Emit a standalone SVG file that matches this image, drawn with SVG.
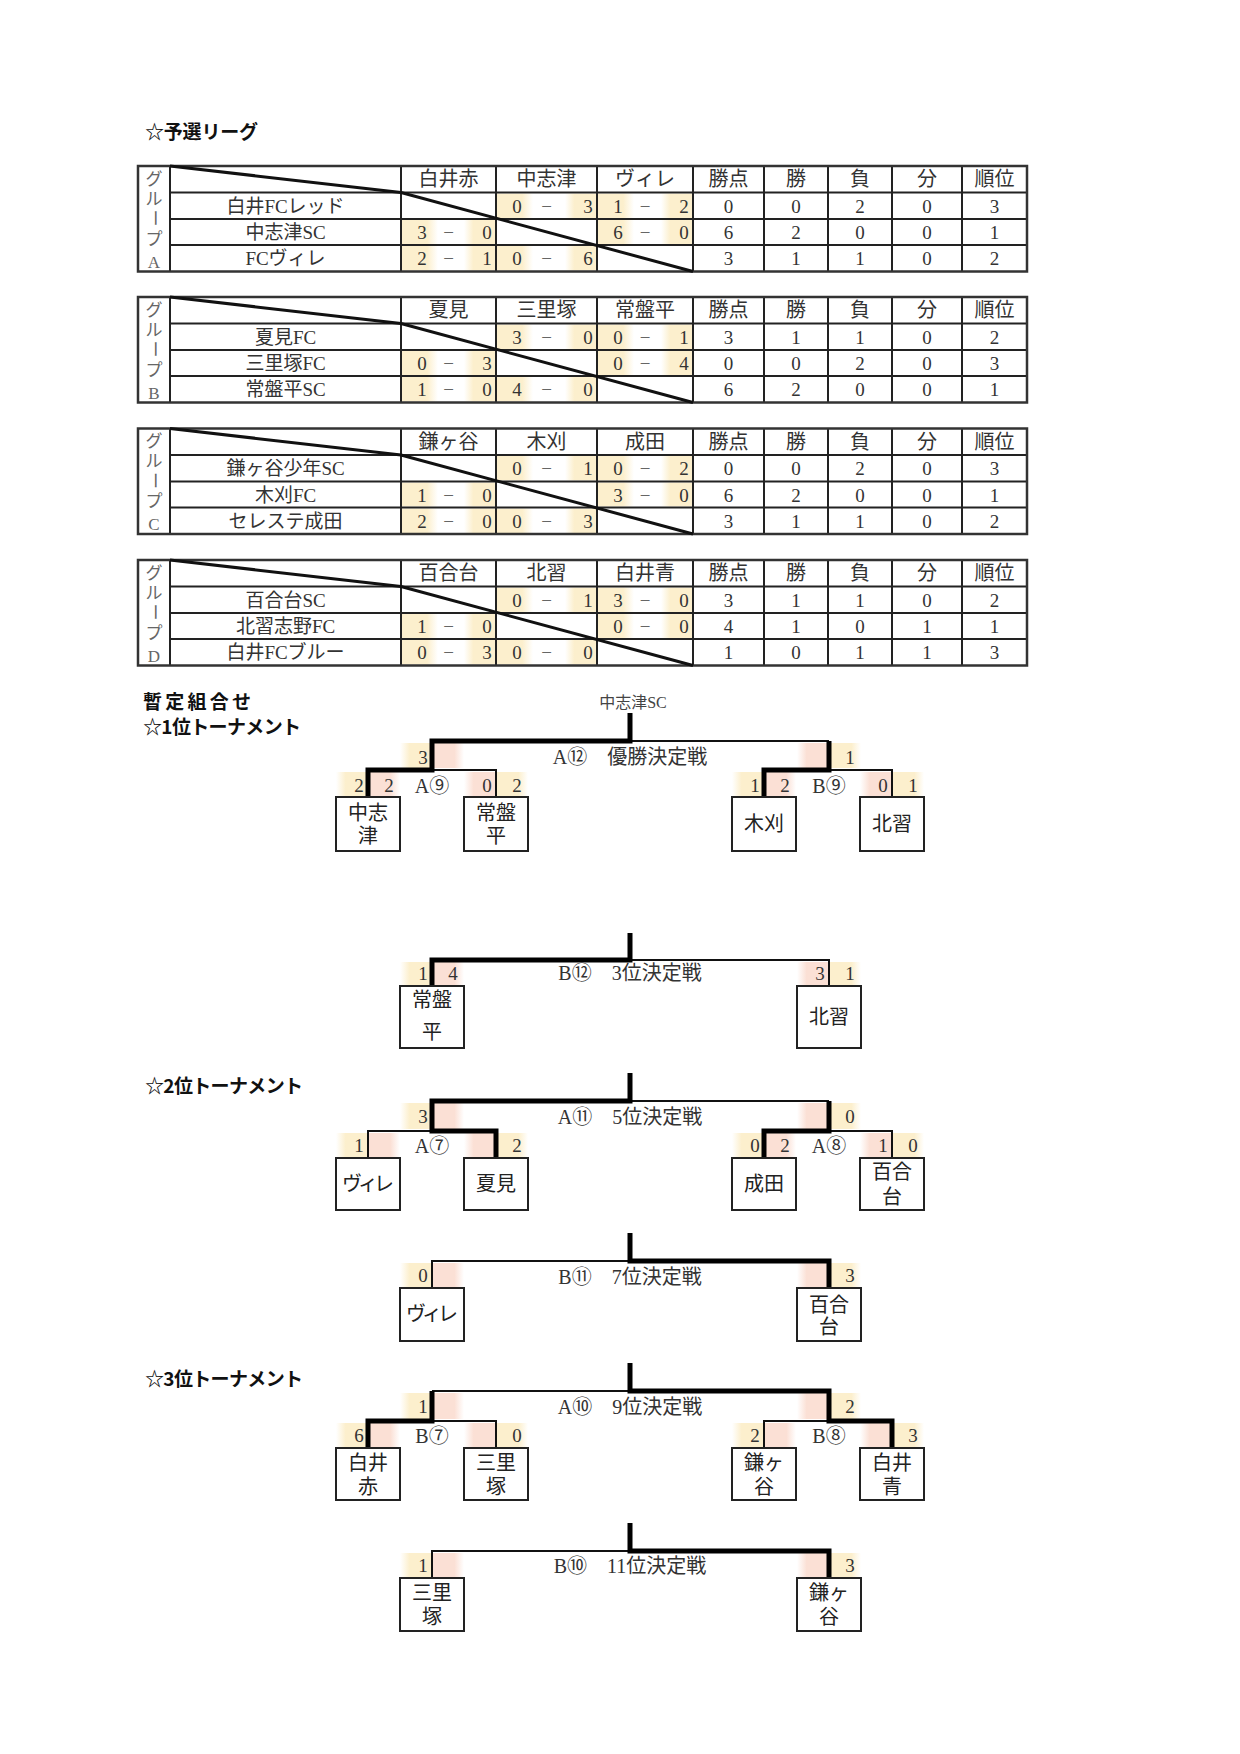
<svg xmlns="http://www.w3.org/2000/svg" width="1240" height="1754" viewBox="0 0 1240 1754">
<defs>
<linearGradient id="yFR" x1="0" x2="1" y1="0" y2="0"><stop offset="0" stop-color="#fcefcd"/><stop offset="0.7" stop-color="#fcefcd"/><stop offset="1" stop-color="#fcefcd" stop-opacity="0"/></linearGradient>
<linearGradient id="yFL" x1="0" x2="1" y1="0" y2="0"><stop offset="0" stop-color="#fcefcd" stop-opacity="0"/><stop offset="0.3" stop-color="#fcefcd"/><stop offset="1" stop-color="#fcefcd"/></linearGradient>
<linearGradient id="pFR" x1="0" x2="1" y1="0" y2="0"><stop offset="0" stop-color="#fbe0d5"/><stop offset="0.7" stop-color="#fbe0d5"/><stop offset="1" stop-color="#fbe0d5" stop-opacity="0"/></linearGradient>
<linearGradient id="pFL" x1="0" x2="1" y1="0" y2="0"><stop offset="0" stop-color="#fbe0d5" stop-opacity="0"/><stop offset="0.3" stop-color="#fbe0d5"/><stop offset="1" stop-color="#fbe0d5"/></linearGradient>
<style>
.h{font-family:"Noto Sans CJK JP",sans-serif;font-weight:bold;font-size:19px;fill:#111}
.t{font-family:"Liberation Serif","Noto Sans CJK JP",serif;fill:#333;font-size:19px}
.c{text-anchor:middle}
.hd{font-size:20px}
.g{font-size:17px;fill:#666}
.ds{fill:#666}
.ln{fill:none;stroke:#222;stroke-width:2}
.ob{fill:none;stroke:#333;stroke-width:2.5}
.dg{fill:none;stroke:#111;stroke-width:3}
.yl{fill:url(#yFR)}
.yr{fill:url(#yFL)}
.cyL{fill:url(#yFL)}
.cyR{fill:url(#yFR)}
.cpL{fill:url(#pFL)}
.cpR{fill:url(#pFR)}
.tk{fill:none;stroke:#000;stroke-width:5}
.tn{fill:none;stroke:#111;stroke-width:2}
.bx{fill:#fff;stroke:#222;stroke-width:2}
.bn{font-size:20px;fill:#222}
.lb{font-size:20px}
</style>
<g id="tblbase">
<rect class="yl" x="497" y="27.5" width="36" height="24.5"/><rect class="yr" x="565" y="27.5" width="31" height="24.5"/>
<rect class="yl" x="598" y="27.5" width="36" height="24.5"/><rect class="yr" x="661" y="27.5" width="31" height="24.5"/>
<rect class="yl" x="402" y="54" width="36" height="24"/><rect class="yr" x="464" y="54" width="31" height="24"/>
<rect class="yl" x="598" y="54" width="36" height="24"/><rect class="yr" x="661" y="54" width="31" height="24"/>
<rect class="yl" x="402" y="80" width="36" height="24.5"/><rect class="yr" x="464" y="80" width="31" height="24.5"/>
<rect class="yl" x="497" y="80" width="36" height="24.5"/><rect class="yr" x="565" y="80" width="31" height="24.5"/>
<path class="ln" d="M170,26.5H1027M170,53H1027M170,79H1027M170,0V105.5M401,0V105.5M496,0V105.5M597,0V105.5M693,0V105.5M764,0V105.5M828,0V105.5M892,0V105.5M962,0V105.5"/>
<rect class="ob" x="138" y="0" width="889" height="105.5"/>
<path class="dg" d="M170,0L401,26.5M401,26.5L693,105.5"/>
<text class="t g c" x="154" y="18.5">グ</text>
<text class="t g c" x="154" y="38.5">ル</text>
<text class="t g c" x="154" y="52" dominant-baseline="central" transform="rotate(90 154 52)">ー</text>
<text class="t g c" x="154" y="78.5">プ</text>
<g class="t hd c">
<text x="728.5" y="20">勝点</text><text x="796" y="20">勝</text><text x="860" y="20">負</text><text x="927" y="20">分</text><text x="994.5" y="20">順位</text>
</g>
</g>
</defs>
<rect x="0" y="0" width="1240" height="1754" fill="#fff"/>

<text id="title1" class="h" x="145" y="139" textLength="113">☆予選リーグ</text>

<g id="groupA" transform="translate(0,166)">
<use href="#tblbase"/>
<text class="t g c" x="154" y="101.5">A</text>
<g class="t hd c"><text x="448.5" y="20">白井赤</text><text x="546.5" y="20">中志津</text><text x="645" y="20">ヴィレ</text></g>
<g class="t c">
<text x="285.5" y="46.5">白井FCレッド</text><text x="285.5" y="73">中志津SC</text><text x="285.5" y="99">FCヴィレ</text>
<text x="517" y="46.5">0</text><text class="ds" x="546.5" y="46.5">−</text><text x="588" y="46.5">3</text>
<text x="618" y="46.5">1</text><text class="ds" x="645" y="46.5">−</text><text x="684" y="46.5">2</text>
<text x="422" y="73">3</text><text class="ds" x="448.5" y="73">−</text><text x="487" y="73">0</text>
<text x="618" y="73">6</text><text class="ds" x="645" y="73">−</text><text x="684" y="73">0</text>
<text x="422" y="99">2</text><text class="ds" x="448.5" y="99">−</text><text x="487" y="99">1</text>
<text x="517" y="99">0</text><text class="ds" x="546.5" y="99">−</text><text x="588" y="99">6</text>
<text x="728.5" y="46.5">0</text><text x="796" y="46.5">0</text><text x="860" y="46.5">2</text><text x="927" y="46.5">0</text><text x="994.5" y="46.5">3</text>
<text x="728.5" y="73">6</text><text x="796" y="73">2</text><text x="860" y="73">0</text><text x="927" y="73">0</text><text x="994.5" y="73">1</text>
<text x="728.5" y="99">3</text><text x="796" y="99">1</text><text x="860" y="99">1</text><text x="927" y="99">0</text><text x="994.5" y="99">2</text>
</g>
</g>

<g id="groupB" transform="translate(0,297)">
<use href="#tblbase"/>
<text class="t g c" x="154" y="101.5">B</text>
<g class="t hd c"><text x="448.5" y="20">夏見</text><text x="546.5" y="20">三里塚</text><text x="645" y="20">常盤平</text></g>
<g class="t c">
<text x="285.5" y="46.5">夏見FC</text><text x="285.5" y="73">三里塚FC</text><text x="285.5" y="99">常盤平SC</text>
<text x="517" y="46.5">3</text><text class="ds" x="546.5" y="46.5">−</text><text x="588" y="46.5">0</text>
<text x="618" y="46.5">0</text><text class="ds" x="645" y="46.5">−</text><text x="684" y="46.5">1</text>
<text x="422" y="73">0</text><text class="ds" x="448.5" y="73">−</text><text x="487" y="73">3</text>
<text x="618" y="73">0</text><text class="ds" x="645" y="73">−</text><text x="684" y="73">4</text>
<text x="422" y="99">1</text><text class="ds" x="448.5" y="99">−</text><text x="487" y="99">0</text>
<text x="517" y="99">4</text><text class="ds" x="546.5" y="99">−</text><text x="588" y="99">0</text>
<text x="728.5" y="46.5">3</text><text x="796" y="46.5">1</text><text x="860" y="46.5">1</text><text x="927" y="46.5">0</text><text x="994.5" y="46.5">2</text>
<text x="728.5" y="73">0</text><text x="796" y="73">0</text><text x="860" y="73">2</text><text x="927" y="73">0</text><text x="994.5" y="73">3</text>
<text x="728.5" y="99">6</text><text x="796" y="99">2</text><text x="860" y="99">0</text><text x="927" y="99">0</text><text x="994.5" y="99">1</text>
</g>
</g>

<g id="groupC" transform="translate(0,428.5)">
<use href="#tblbase"/>
<text class="t g c" x="154" y="101.5">C</text>
<g class="t hd c"><text x="448.5" y="20">鎌ヶ谷</text><text x="546.5" y="20">木刈</text><text x="645" y="20">成田</text></g>
<g class="t c">
<text x="285.5" y="46.5">鎌ヶ谷少年SC</text><text x="285.5" y="73">木刈FC</text><text x="285.5" y="99">セレステ成田</text>
<text x="517" y="46.5">0</text><text class="ds" x="546.5" y="46.5">−</text><text x="588" y="46.5">1</text>
<text x="618" y="46.5">0</text><text class="ds" x="645" y="46.5">−</text><text x="684" y="46.5">2</text>
<text x="422" y="73">1</text><text class="ds" x="448.5" y="73">−</text><text x="487" y="73">0</text>
<text x="618" y="73">3</text><text class="ds" x="645" y="73">−</text><text x="684" y="73">0</text>
<text x="422" y="99">2</text><text class="ds" x="448.5" y="99">−</text><text x="487" y="99">0</text>
<text x="517" y="99">0</text><text class="ds" x="546.5" y="99">−</text><text x="588" y="99">3</text>
<text x="728.5" y="46.5">0</text><text x="796" y="46.5">0</text><text x="860" y="46.5">2</text><text x="927" y="46.5">0</text><text x="994.5" y="46.5">3</text>
<text x="728.5" y="73">6</text><text x="796" y="73">2</text><text x="860" y="73">0</text><text x="927" y="73">0</text><text x="994.5" y="73">1</text>
<text x="728.5" y="99">3</text><text x="796" y="99">1</text><text x="860" y="99">1</text><text x="927" y="99">0</text><text x="994.5" y="99">2</text>
</g>
</g>

<g id="groupD" transform="translate(0,560)">
<use href="#tblbase"/>
<text class="t g c" x="154" y="101.5">D</text>
<g class="t hd c"><text x="448.5" y="20">百合台</text><text x="546.5" y="20">北習</text><text x="645" y="20">白井青</text></g>
<g class="t c">
<text x="285.5" y="46.5">百合台SC</text><text x="285.5" y="73">北習志野FC</text><text x="285.5" y="99">白井FCブルー</text>
<text x="517" y="46.5">0</text><text class="ds" x="546.5" y="46.5">−</text><text x="588" y="46.5">1</text>
<text x="618" y="46.5">3</text><text class="ds" x="645" y="46.5">−</text><text x="684" y="46.5">0</text>
<text x="422" y="73">1</text><text class="ds" x="448.5" y="73">−</text><text x="487" y="73">0</text>
<text x="618" y="73">0</text><text class="ds" x="645" y="73">−</text><text x="684" y="73">0</text>
<text x="422" y="99">0</text><text class="ds" x="448.5" y="99">−</text><text x="487" y="99">3</text>
<text x="517" y="99">0</text><text class="ds" x="546.5" y="99">−</text><text x="588" y="99">0</text>
<text x="728.5" y="46.5">3</text><text x="796" y="46.5">1</text><text x="860" y="46.5">1</text><text x="927" y="46.5">0</text><text x="994.5" y="46.5">2</text>
<text x="728.5" y="73">4</text><text x="796" y="73">1</text><text x="860" y="73">0</text><text x="927" y="73">1</text><text x="994.5" y="73">1</text>
<text x="728.5" y="99">1</text><text x="796" y="99">0</text><text x="860" y="99">1</text><text x="927" y="99">1</text><text x="994.5" y="99">3</text>
</g>
</g>

<g id="headings">
<text class="h" x="143" y="709" textLength="108">暫定組合せ</text>
<text class="h" x="143" y="734" textLength="158">☆1位トーナメント</text>
<text class="h" x="145" y="1093" textLength="158">☆2位トーナメント</text>
<text class="h" x="145" y="1386" textLength="158">☆3位トーナメント</text>
</g>

<g id="scorecells">
<rect class="cyL" x="400" y="743" width="32" height="25"/><rect class="cpR" x="432" y="743" width="32" height="25"/>
<rect class="cpL" x="797" y="743" width="32" height="25"/><rect class="cyR" x="829" y="743" width="32" height="25"/>
<rect class="cyL" x="336" y="772" width="32" height="24"/><rect class="cpR" x="368" y="772" width="32" height="24"/>
<rect class="cpL" x="464" y="772" width="32" height="24"/><rect class="cyR" x="496" y="772" width="32" height="24"/>
<rect class="cyL" x="732" y="772" width="32" height="24"/><rect class="cpR" x="764" y="772" width="32" height="24"/>
<rect class="cpL" x="860" y="772" width="32" height="24"/><rect class="cyR" x="892" y="772" width="32" height="24"/>

<rect class="cyL" x="400" y="962" width="32" height="23"/><rect class="cpR" x="432" y="962" width="32" height="23"/>
<rect class="cpL" x="797" y="962" width="32" height="23"/><rect class="cyR" x="829" y="962" width="32" height="23"/>

<rect class="cyL" x="400" y="1103" width="32" height="26"/><rect class="cpR" x="432" y="1103" width="32" height="26"/>
<rect class="cpL" x="797" y="1103" width="32" height="26"/><rect class="cyR" x="829" y="1103" width="32" height="26"/>
<rect class="cyL" x="336" y="1133" width="32" height="24"/><rect class="cpR" x="368" y="1133" width="32" height="24"/>
<rect class="cpL" x="464" y="1133" width="32" height="24"/><rect class="cyR" x="496" y="1133" width="32" height="24"/>
<rect class="cyL" x="732" y="1133" width="32" height="24"/><rect class="cpR" x="764" y="1133" width="32" height="24"/>
<rect class="cpL" x="860" y="1133" width="32" height="24"/><rect class="cyR" x="892" y="1133" width="32" height="24"/>

<rect class="cyL" x="400" y="1263" width="32" height="24"/><rect class="cpR" x="432" y="1263" width="32" height="24"/>
<rect class="cpL" x="797" y="1263" width="32" height="24"/><rect class="cyR" x="829" y="1263" width="32" height="24"/>

<rect class="cyL" x="400" y="1393" width="32" height="26"/><rect class="cpR" x="432" y="1393" width="32" height="26"/>
<rect class="cpL" x="797" y="1393" width="32" height="26"/><rect class="cyR" x="829" y="1393" width="32" height="26"/>
<rect class="cyL" x="336" y="1423" width="32" height="24"/><rect class="cpR" x="368" y="1423" width="32" height="24"/>
<rect class="cpL" x="464" y="1423" width="32" height="24"/><rect class="cyR" x="496" y="1423" width="32" height="24"/>
<rect class="cyL" x="732" y="1423" width="32" height="24"/><rect class="cpR" x="764" y="1423" width="32" height="24"/>
<rect class="cpL" x="860" y="1423" width="32" height="24"/><rect class="cyR" x="892" y="1423" width="32" height="24"/>

<rect class="cyL" x="400" y="1553" width="32" height="24"/><rect class="cpR" x="432" y="1553" width="32" height="24"/>
<rect class="cpL" x="797" y="1553" width="32" height="24"/><rect class="cyR" x="829" y="1553" width="32" height="24"/>
</g>

<g id="connectors">
<path class="tn" d="M630,741H829M432,770H496V797M829,770H892V797"/>
<path class="tk" d="M630,713V741H432V770H368V797M829,741V770H764V797"/>
<path class="tn" d="M630,960H829V986"/>
<path class="tk" d="M630,933V960H432V986"/>
<path class="tn" d="M630,1101H829M432,1131H368V1158M829,1131H892V1158"/>
<path class="tk" d="M630,1073V1101H432V1131H496V1158M829,1101V1131H764V1158"/>
<path class="tn" d="M630,1261H432V1288"/>
<path class="tk" d="M630,1233V1261H829V1288"/>
<path class="tn" d="M630,1391H432M432,1421H496V1448M829,1421H764V1448"/>
<path class="tk" d="M630,1363V1391H829V1421H892V1448M432,1391V1421H368V1448"/>
<path class="tn" d="M630,1551H432V1578"/>
<path class="tk" d="M630,1523V1551H829V1578"/>
</g>

<g id="matchlabels" class="t c">
<text x="633" y="708" style="font-size:16px;fill:#444">中志津SC</text>
<text class="lb" x="630" y="764">A⑫　優勝決定戦</text>
<text class="lb" x="432" y="793">A⑨</text>
<text class="lb" x="829" y="793">B⑨</text>
<text class="lb" x="630" y="980">B⑫　3位決定戦</text>
<text class="lb" x="630" y="1124">A⑪　5位決定戦</text>
<text class="lb" x="432" y="1153">A⑦</text>
<text class="lb" x="829" y="1153">A⑧</text>
<text class="lb" x="630" y="1284">B⑪　7位決定戦</text>
<text class="lb" x="630" y="1414">A⑩　9位決定戦</text>
<text class="lb" x="432" y="1443">B⑦</text>
<text class="lb" x="829" y="1443">B⑧</text>
<text class="lb" x="630" y="1573">B⑩　11位決定戦</text>
</g>

<g id="scores" class="t c">
<text x="423" y="764">3</text><text x="850" y="764">1</text>
<text x="359" y="792">2</text><text x="389" y="792">2</text><text x="487" y="792">0</text><text x="517" y="792">2</text>
<text x="755" y="792">1</text><text x="785" y="792">2</text><text x="883" y="792">0</text><text x="913" y="792">1</text>
<text x="423" y="980">1</text><text x="453" y="980">4</text><text x="820" y="980">3</text><text x="850" y="980">1</text>
<text x="423" y="1122.5">3</text><text x="850" y="1122.5">0</text>
<text x="359" y="1151.5">1</text><text x="517" y="1151.5">2</text><text x="755" y="1151.5">0</text><text x="785" y="1151.5">2</text><text x="883" y="1151.5">1</text><text x="913" y="1151.5">0</text>
<text x="423" y="1281.5">0</text><text x="850" y="1281.5">3</text>
<text x="423" y="1412.5">1</text><text x="850" y="1412.5">2</text>
<text x="359" y="1441.5">6</text><text x="517" y="1441.5">0</text><text x="755" y="1441.5">2</text><text x="913" y="1441.5">3</text>
<text x="423" y="1571.5">1</text><text x="850" y="1571.5">3</text>
</g>

<g id="t1-nakashizu"><rect class="bx" x="336" y="797" width="64" height="54"/><text class="t bn c" x="368" y="820">中志</text><text class="t bn c" x="368" y="843">津</text></g>
<g id="t1-tokiwadaira"><rect class="bx" x="464" y="797" width="64" height="54"/><text class="t bn c" x="496" y="820">常盤</text><text class="t bn c" x="496" y="843">平</text></g>
<g id="t1-kogari"><rect class="bx" x="732" y="797" width="64" height="54"/><text class="t bn c" x="764" y="831">木刈</text></g>
<g id="t1-narashino"><rect class="bx" x="860" y="797" width="64" height="54"/><text class="t bn c" x="892" y="831">北習</text></g>

<g id="t3-tokiwadaira"><rect class="bx" x="400" y="986" width="64" height="62"/><text class="t bn c" x="432" y="1007">常盤</text><text class="t bn c" x="432" y="1039">平</text></g>
<g id="t3-narashino"><rect class="bx" x="797" y="986" width="64" height="62"/><text class="t bn c" x="829" y="1024">北習</text></g>

<g id="t5-ville"><rect class="bx" x="336" y="1158" width="64" height="52"/><text class="t bn c" x="368" y="1191" textLength="52">ヴィレ</text></g>
<g id="t5-natsumi"><rect class="bx" x="464" y="1158" width="64" height="52"/><text class="t bn c" x="496" y="1191">夏見</text></g>
<g id="t5-narita"><rect class="bx" x="732" y="1158" width="64" height="52"/><text class="t bn c" x="764" y="1191">成田</text></g>
<g id="t5-yuridai"><rect class="bx" x="860" y="1158" width="64" height="52"/><text class="t bn c" x="892" y="1179">百合</text><text class="t bn c" x="892" y="1204">台</text></g>

<g id="t7-ville"><rect class="bx" x="400" y="1288" width="64" height="53"/><text class="t bn c" x="432" y="1321" textLength="52">ヴィレ</text></g>
<g id="t7-yuridai"><rect class="bx" x="797" y="1288" width="64" height="53"/><text class="t bn c" x="829" y="1312">百合</text><text class="t bn c" x="829" y="1334">台</text></g>

<g id="t9-shiroiaka"><rect class="bx" x="336" y="1448" width="64" height="52"/><text class="t bn c" x="368" y="1470">白井</text><text class="t bn c" x="368" y="1494">赤</text></g>
<g id="t9-misatozuka"><rect class="bx" x="464" y="1448" width="64" height="52"/><text class="t bn c" x="496" y="1470">三里</text><text class="t bn c" x="496" y="1494">塚</text></g>
<g id="t9-kamagaya"><rect class="bx" x="732" y="1448" width="64" height="52"/><text class="t bn c" x="764" y="1470">鎌ヶ</text><text class="t bn c" x="764" y="1494">谷</text></g>
<g id="t9-shiroiao"><rect class="bx" x="860" y="1448" width="64" height="52"/><text class="t bn c" x="892" y="1470">白井</text><text class="t bn c" x="892" y="1494">青</text></g>

<g id="t11-misatozuka"><rect class="bx" x="400" y="1578" width="64" height="53"/><text class="t bn c" x="432" y="1600">三里</text><text class="t bn c" x="432" y="1624">塚</text></g>
<g id="t11-kamagaya"><rect class="bx" x="797" y="1578" width="64" height="53"/><text class="t bn c" x="829" y="1600">鎌ヶ</text><text class="t bn c" x="829" y="1624">谷</text></g>
</svg>
